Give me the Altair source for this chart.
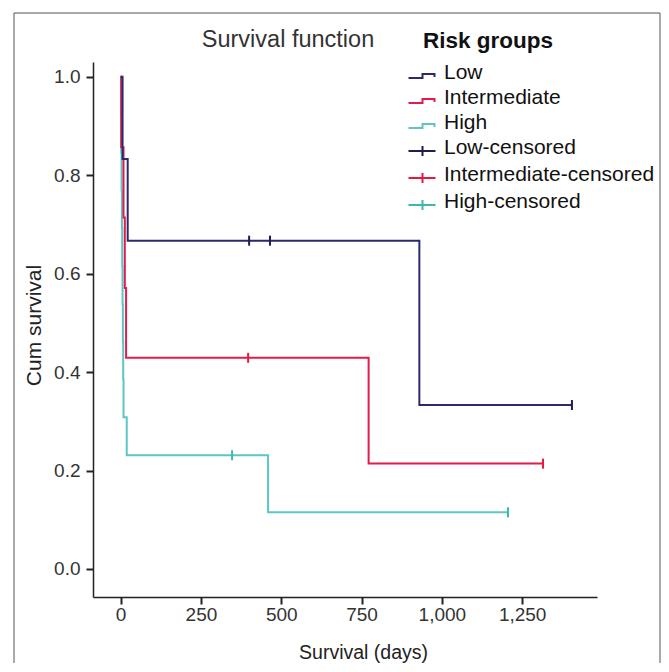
import altair as alt
import pandas as pd

FONT = "Liberation Sans, Arial, Helvetica, sans-serif"

# ---- legend / series ----
series_order = ["Low", "Intermediate", "High",
                "Low-censored", "Intermediate-censored", "High-censored"]
series_colors = ["#2c2a6b", "#e31b4c", "#5ec5c6",
                 "#1f1d4e", "#e8173f", "#3db8ae"]

# ---- Kaplan-Meier step points (time in days, cumulative survival) ----
low_time = [0, 6, 22, 930, 1405]
low_surv = [1.0, 0.833, 0.667, 0.333, 0.333]

int_time = [0, 2, 9, 13, 17, 772, 1315]
int_surv = [1.0, 0.857, 0.714, 0.571, 0.429, 0.214, 0.214]

high_time = [0, 1, 2, 3, 4, 5, 6, 7, 8, 9, 19, 459, 1206]
high_surv = [1.0, 0.923, 0.846, 0.769, 0.692, 0.615, 0.538, 0.462,
             0.385, 0.308, 0.231, 0.115, 0.115]

# ---- censored observations ----
low_cens_time = [400, 465, 1405]
low_cens_surv = [0.667, 0.667, 0.333]
int_cens_time = [397, 1315]
int_cens_surv = [0.429, 0.214]
high_cens_time = [347, 1206]
high_cens_surv = [0.231, 0.115]

x_ticks = [0, 250, 500, 750, 1000, 1250]
y_ticks = [0.0, 0.2, 0.4, 0.6, 0.8, 1.0]

# ---- tables ----
rows = []
for name, ts, ss in [("High", high_time, high_surv),
                     ("Intermediate", int_time, int_surv),
                     ("Low", low_time, low_surv)]:
    for t, s in zip(ts, ss):
        rows.append({"series": name, "time": t, "surv": s})
lines_df = pd.DataFrame(rows)

crow = []
for name, ts, ss in [("High-censored", high_cens_time, high_cens_surv),
                     ("Intermediate-censored", int_cens_time, int_cens_surv),
                     ("Low-censored", low_cens_time, low_cens_surv)]:
    for t, s in zip(ts, ss):
        crow.append({"series": name, "time": t, "surv": s})
cens_df = pd.DataFrame(crow)

legend_df = pd.DataFrame({"series": series_order})

# legend glyphs (symbolSize 4 -> path units are pixels)
step_glyph = "M-25,5L-11,5L-11,1L1,1L1,4"
cens_glyph = "M-25,3L2,3M-11,-2L-11,8"
shape_paths = [step_glyph, step_glyph, step_glyph, cens_glyph, cens_glyph, cens_glyph]

# stroke scale for the drawn marks (domain listed in another order so that its
# hidden legend is not merged with the visible one)
stroke_scale = alt.Scale(domain=series_order[::-1], range=series_colors[::-1])
xscale = alt.Scale(domain=[-86, 1483], nice=False, zero=False)
yscale = alt.Scale(domain=[-0.057, 1.03], nice=False, zero=False)

xaxis = alt.Axis(values=x_ticks, format=",d", title="Survival (days)", grid=False,
                 tickSize=7, tickWidth=2, tickColor="#222", domainColor="#222",
                 domainWidth=1.5, labelFont=FONT, labelFontSize=19, labelColor="#333",
                 labelPadding=1, titleFont=FONT, titleFontSize=19.5,
                 titleFontWeight="normal", titleColor="#222",
                 titleX=270, titleY=55, titleBaseline="middle", titleAlign="center")
yaxis = alt.Axis(values=y_ticks, format=".1f", title="Cum survival", grid=False,
                 tickSize=7, tickWidth=2, tickColor="#222", domainColor="#222",
                 domainWidth=1.5, labelFont=FONT, labelFontSize=19, labelColor="#333",
                 labelPadding=6, titleFont=FONT, titleFontSize=21,
                 titleFontWeight="normal", titleColor="#222", titleAngle=270,
                 titleX=-59, titleY=263, titleBaseline="middle", titleAlign="center")

X = alt.X("time:Q", scale=xscale, axis=xaxis)
Y = alt.Y("surv:Q", scale=yscale, axis=yaxis)

lines = alt.Chart(lines_df).mark_line(interpolate="step-after", strokeWidth=2).encode(
    x=X, y=Y,
    stroke=alt.Stroke("series:N", scale=stroke_scale, legend=None),
)

cens = alt.Chart(cens_df).mark_point(shape="M0,-1L0,1", size=100, strokeWidth=2,
                                     filled=False, opacity=1).encode(
    x=X, y=Y,
    stroke=alt.Stroke("series:N", scale=stroke_scale, legend=None),
)

leg = alt.Legend(title="Risk groups", orient="none", legendX=330, legendY=-32,
                 titleFont=FONT, titleFontSize=22.5, titleFontWeight="bold",
                 titleColor="#111", titleAnchor="start", titlePadding=10,
                 labelFont=FONT, labelFontSize=21, labelColor="#111",
                 labelOffset=0, symbolSize=4, symbolStrokeWidth=2,
                 rowPadding=3, labelLimit=400)

legend_layer = alt.Chart(legend_df).mark_point(filled=False, size=4, opacity=1).encode(
    color=alt.Color("series:N", scale=alt.Scale(domain=series_order, range=series_colors),
                    legend=leg),
    shape=alt.Shape("series:N", scale=alt.Scale(domain=series_order, range=shape_paths),
                    legend=leg),
).transform_filter("false")

frame = alt.Chart(pd.DataFrame({"a": [0]})).mark_rect(
    fill="transparent", stroke="#555", strokeWidth=1).encode(
    x=alt.value(-79), x2=alt.value(567), y=alt.value(-49), y2=alt.value(625))

title = alt.Chart(pd.DataFrame({"a": [0]})).mark_text(
    text="Survival function", font=FONT, fontSize=23.5, color="#333",
    align="center", baseline="middle").encode(x=alt.value(195), y=alt.value(-22))

chart = alt.layer(frame, legend_layer, lines, cens, title).properties(
    width=504, height=535,
    autosize=alt.AutoSizeParams(type="none"),
    padding={"left": 85, "top": 54, "right": 64, "bottom": 66},
).configure_view(stroke=None)

chart.save("out.html", embed_options={"renderer": "svg", "actions": False})
